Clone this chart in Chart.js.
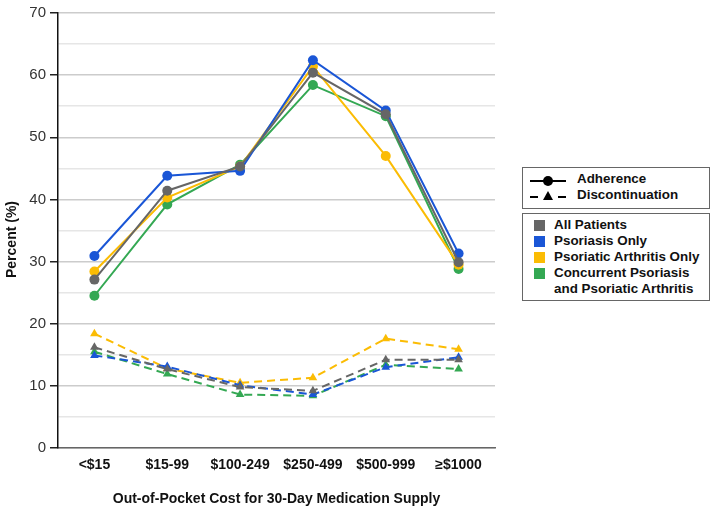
<!DOCTYPE html>
<html><head><meta charset="utf-8">
<script src="https://cdn.jsdelivr.net/npm/chart.js@4/dist/chart.umd.min.js"></script>
<style>
html,body{margin:0;padding:0;background:#fff;}
#wrap{position:relative;width:711px;height:511px;}
canvas{position:absolute;left:0;top:0;}
.box{position:absolute;border:1.5px solid #666;background:#fff;font:bold 13.4px "Liberation Sans",Arial,sans-serif;color:#111;box-sizing:border-box;}
.row{position:absolute;left:0;white-space:nowrap;}
.sw{position:absolute;width:11px;height:11px;}
</style></head><body>
<div id="wrap"><canvas id="c" width="711" height="511"></canvas>
<div class="box" style="left:522px;top:167px;width:188px;height:42px;">
  <svg style="position:absolute;left:5px;top:4px" width="40" height="34">
    <line x1="2" y1="9" x2="38" y2="9" stroke="#000" stroke-width="2"/>
    <circle cx="20" cy="9" r="5" fill="#000"/>
    <line x1="2" y1="25" x2="10" y2="25" stroke="#000" stroke-width="2"/>
    <line x1="30" y1="25" x2="38" y2="25" stroke="#000" stroke-width="2"/>
    <polygon points="20,19 25,28 15,28" fill="#000"/>
  </svg>
  <div class="row" style="left:54px;top:3px">Adherence</div>
  <div class="row" style="left:54px;top:19px">Discontinuation</div>
</div>
<div class="box" id="lg2" style="left:522px;top:213px;width:188px;height:88px;"></div>
</div>
<script>
const categories = ["<$15","$15-99","$100-249","$250-499","$500-999","≥$1000"];
const groups = ["All Patients","Psoriasis Only","Psoriatic Arthritis Only","Concurrent Psoriasis and Psoriatic Arthritis"];
const legendLines = [["All Patients"],["Psoriasis Only"],["Psoriatic Arthritis Only"],["Concurrent Psoriasis","and Psoriatic Arthritis"]];
const colors = ["#666666","#1a56d6","#fbbc04","#34a853"];
const adherenceAll = [27.1, 41.4, 45.3, 60.4, 53.7, 29.9];
const adherencePso = [30.9, 43.8, 44.6, 62.4, 54.3, 31.3];
const adherencePsA = [28.4, 40.3, 45.3, 61.4, 47.0, 29.5];
const adherenceBoth = [24.5, 39.2, 45.6, 58.4, 53.4, 28.8];
const discontAll = [16.2, 12.7, 9.8, 9.2, 14.2, 14.2];
const discontPso = [14.9, 13.1, 10.1, 8.6, 13.0, 14.6];
const discontPsA = [18.4, 12.8, 10.5, 11.3, 17.6, 15.9];
const discontBoth = [15.5, 11.9, 8.6, 8.4, 13.4, 12.7];
const yTicks = [0,10,20,30,40,50,60,70];
const yTitle = "Percent (%)";

const adh = [adherenceAll, adherencePso, adherencePsA, adherenceBoth];
const dis = [discontAll, discontPso, discontPsA, discontBoth];
const datasets = [];
for (let i=0;i<4;i++){
  datasets.push({label:groups[i]+" Discontinuation",data:dis[i],borderColor:colors[i],backgroundColor:colors[i],
    borderWidth:2,borderDash:[8,5],pointStyle:"triangle",pointRadius:5,pointBorderWidth:0,tension:0});
}
for (let i=0;i<4;i++){
  datasets.push({label:groups[i]+" Adherence",data:adh[i],borderColor:colors[i],backgroundColor:colors[i],
    borderWidth:2,pointStyle:"circle",pointRadius:5,pointBorderWidth:0,tension:0});
}
const lg = document.getElementById("lg2");
let rowTop = 3;
legendLines.forEach((ls,i)=>{
  const sw = document.createElement("div"); sw.className="sw";
  sw.style.background = colors[i]; sw.style.left="11px"; sw.style.top=(rowTop+3)+"px"; lg.appendChild(sw);
  ls.forEach(t=>{
    const r=document.createElement("div"); r.className="row"; r.style.left="31px"; r.style.top=rowTop+"px";
    r.textContent=t; lg.appendChild(r); rowTop+=16;
  });
});

const yTitlePlugin = {
  id:"yTitle",
  afterDraw(chart){
    const ctx=chart.ctx; const a=chart.chartArea;
    ctx.save();
    ctx.translate(12,(a.top+a.bottom)/2+9);
    ctx.rotate(-Math.PI/2);
    ctx.font="bold 14px 'Liberation Sans'";
    ctx.fillStyle="#111"; ctx.textAlign="center"; ctx.textBaseline="middle";
    ctx.fillText(yTitle,0,0);
    ctx.restore();
  }
};

new Chart(document.getElementById("c"),{
  type:"line",
  data:{labels:categories,datasets},
  plugins:[yTitlePlugin],
  options:{
    responsive:false,animation:false,
    layout:{padding:{left:2,right:216,top:6,bottom:0}},
    plugins:{legend:{display:false},tooltip:{enabled:false}},
    scales:{
      x:{offset:true,
        grid:{display:false,drawTicks:false},
        border:{color:"#666",width:1.5},
        ticks:{color:"#111",font:{family:"Liberation Sans",size:14,weight:"bold"},padding:9,maxRotation:0},
        title:{display:true,text:"Out-of-Pocket Cost for 30-Day Medication Supply",color:"#111",
          font:{family:"Liberation Sans",size:14,weight:"bold"},padding:{top:19,bottom:3}},
        afterFit:s=>{s.height=63;}
      },
      y:{min:0,max:70,
        afterBuildTicks:s=>{const t=[];for(let v=0;v<=70;v+=5)t.push({value:v});s.ticks=t;},
        grid:{color:c=>c.tick && c.tick.value%10===0?"#cccccc":"#e6e6e6",lineWidth:1.5,
          tickLength:8,tickColor:c=>c.tick && c.tick.value%10===0?"#222":"rgba(0,0,0,0)"},
        border:{color:"#111",width:1.5},
        ticks:{color:"#333",font:{family:"Liberation Sans",size:15},padding:4,
          callback:v=>yTicks.includes(v)?String(v):""},
        afterFit:s=>{s.width=56;}
      }
    }
  }
});
</script></body></html>
